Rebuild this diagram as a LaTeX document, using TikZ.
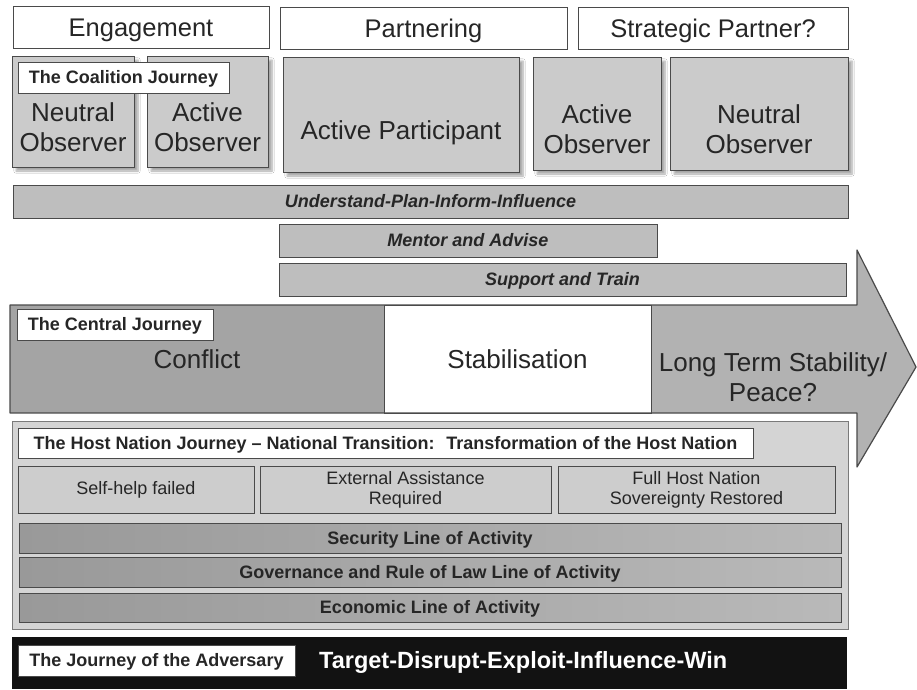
\documentclass[tikz,border=0pt]{standalone}
\usepackage{fontspec}
\setmainfont{Liberation Sans}
\usetikzlibrary{positioning,shadows.blur}
\definecolor{edgegray}{HTML}{4A4A4A}
\definecolor{inkgray}{HTML}{262626}
\definecolor{stagegray}{HTML}{CBCBCB}
\definecolor{bargray}{HTML}{BEBEBE}
\definecolor{conflictgray}{HTML}{A4A4A4}
\definecolor{longgray}{HTML}{B2B2B2}
\definecolor{hostgray}{HTML}{D4D4D4}
\definecolor{hostedge}{HTML}{7A7A7A}
\definecolor{transitgray}{HTML}{CDCDCD}
\definecolor{loadark}{HTML}{999999}
\definecolor{loalight}{HTML}{B9B9B9}
\definecolor{adversaryblack}{HTML}{121212}

\begin{document}
\begin{tikzpicture}[x=1pt, y=-1pt, text=inkgray,
	box/.style={draw=edgegray, line width=1pt, inner sep=0pt, outer sep=0pt, anchor=north west},
	oneline/.style={text height=#1, text depth=0pt},
	phase/.style={box, oneline=18.3pt, fill=white, font=\fontsize{25.5}{30}\selectfont},
	stage/.style={box, fill=stagegray, blur shadow={shadow xshift=4pt, shadow yshift=-4pt, shadow blur steps=6, shadow opacity=35}},
	stagetext/.style={font=\fontsize{26}{30}\selectfont, align=center},
	journey/.style={box, oneline=18.6pt, font=\fontsize{26}{30}\selectfont},
	tag/.style={box, oneline=12.9pt, fill=white, font=\bfseries\fontsize{18}{20}\selectfont},
	effort/.style={box, oneline=12.9pt, fill=bargray, font=\bfseries\itshape\fontsize{18}{20}\selectfont},
	transit/.style={box, fill=transitgray, font=\fontsize{18}{20}\selectfont, align=center},
	loa/.style={box, oneline=12.9pt, left color=loadark, right color=loalight, font=\bfseries\fontsize{18}{20}\selectfont}]
	\useasboundingbox (0,0) rectangle (917,689);
	\fill[white] (0,0) rectangle (917,689);
	\node[phase, minimum width=256pt, minimum height=42pt] (engagement) at (13,6) {Engagement};
	\node[phase, minimum width=287pt, minimum height=42pt] (partnering) at (280,7) {Partnering};
	\node[phase, minimum width=270pt, minimum height=42pt] (strategic) at (578,7) {Strategic Partner?};
	\node[stage, minimum width=122pt, minimum height=111pt] (neutral1) at (12,56) {};
	\node[stage, minimum width=121pt, minimum height=111pt] (active1) at (147,56) {};
	\node[stage, minimum width=236pt, minimum height=115pt] (participant) at (283,57) {};
	\node[stage, minimum width=128pt, minimum height=113pt] (active2) at (533,57) {};
	\node[stage, minimum width=178pt, minimum height=113pt] (neutral2) at (670,57) {};
	\node[stagetext] (neutral1-t) at ([yshift=-16pt]neutral1.center) {Neutral\\Observer};
	\node[stagetext] (active1-t) at ([yshift=-16pt]active1.center) {Active\\Observer};
	\node[stagetext, oneline=18.6pt] (participant-t) at ([yshift=-16pt]participant.center) {Active Participant};
	\node[stagetext] (active2-t) at ([yshift=-16pt]active2.center) {Active\\Observer};
	\node[stagetext] (neutral2-t) at ([yshift=-16pt]neutral2.center) {Neutral\\Observer};
	\node[tag, minimum width=211pt, minimum height=31pt] (coalition) at (18,62) {The Coalition Journey};
	\node[effort, minimum width=835pt, minimum height=33pt] (understand) at (13,185) {Understand-Plan-Inform-Influence};
	\node[effort, minimum width=378pt, minimum height=33pt] (mentor) at (279,224) {Mentor and Advise};
	\node[effort, minimum width=567pt, minimum height=33pt] (support) at (279,263) {Support and Train};
	\fill[longgray] (651,305) -- (857,305) -- (857,250) -- (916,367) -- (857,467) -- (857,413) -- (651,413) -- cycle;
	\node[journey, draw=none, fill=conflictgray, minimum width=374pt, minimum height=108pt] (conflict) at (10,305) {Conflict};
	\node[journey, fill=white, minimum width=267pt, minimum height=108pt] (stabilisation) at (384,305) {Stabilisation};
	\draw[edgegray, line width=1.2pt, line join=round] (10,305) -- (857,305) -- (857,250) -- (916,367) -- (857,467) -- (857,413) -- (10,413) -- cycle;
	\node[stagetext] (longterm) at (773,377) {Long Term Stability/\\Peace?};
	\node[tag, minimum width=196pt, minimum height=31pt] (central) at (17,309) {The Central Journey};
	\node[box, draw=hostedge, fill=hostgray, minimum width=836pt, minimum height=208pt] (host) at (12,421) {};
	\node[tag, minimum width=735pt, minimum height=30pt] (hostlabel) at (18,428) {The Host Nation Journey -- National Transition:~ Transformation of the Host Nation};
	\node[transit, minimum width=236pt, minimum height=47pt] (selfhelp) at (18,466) {Self-help failed};
	\node[transit, minimum width=291pt, minimum height=47pt] (assistance) at (260,466) {External Assistance\\Required};
	\node[transit, minimum width=277pt, minimum height=47pt] (sovereignty) at (558,466) {Full Host Nation\\Sovereignty Restored};
	\node[loa, minimum width=822pt, minimum height=30pt] (security) at (19,523) {Security Line of Activity};
	\node[loa, minimum width=822pt, minimum height=30pt] (governance) at (19,557) {Governance and Rule of Law Line of Activity};
	\node[loa, minimum width=822pt, minimum height=29pt] (economic) at (19,593) {Economic Line of Activity};
	\node[box, draw=none, fill=adversaryblack, minimum width=835pt, minimum height=52pt] (adversary) at (12,637) {};
	\node[tag, minimum width=277pt, minimum height=31pt] (advlabel) at (18,645) {The Journey of the Adversary};
	\node[right=24pt of advlabel, inner sep=0pt, oneline=16.8pt, text=white, font=\bfseries\fontsize{23.5}{26}\selectfont] (target) {Target-Disrupt-Exploit-Influence-Win};
\end{tikzpicture}
\end{document}
